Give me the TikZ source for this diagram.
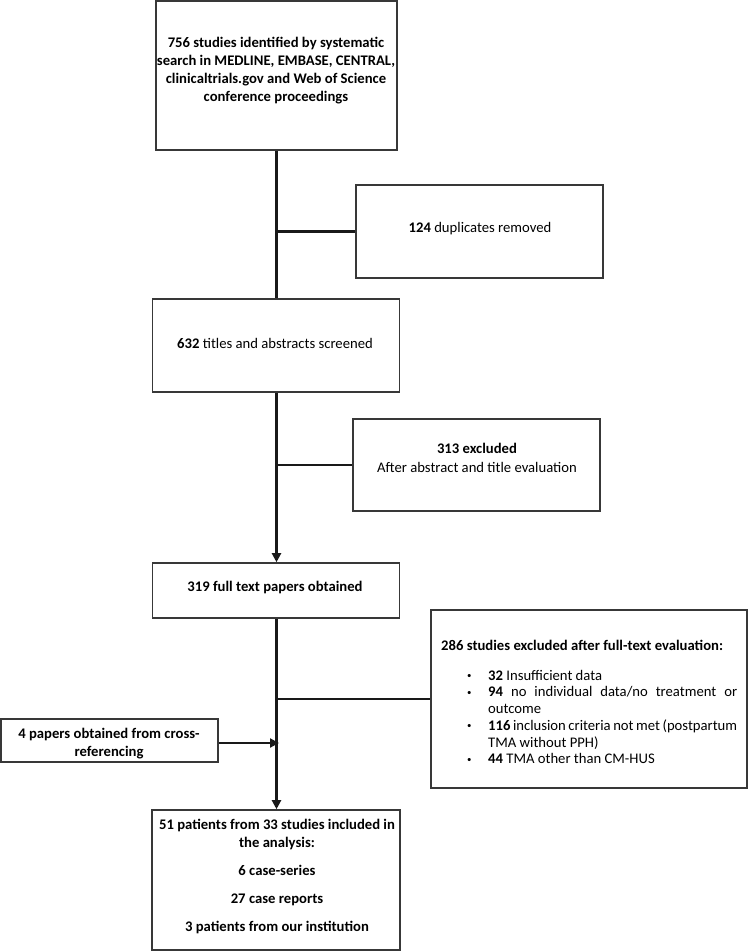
\documentclass[tikz,border=0pt]{standalone}
\usepackage{fontspec}
\setmainfont{Carlito}
\usetikzlibrary{arrows.meta}
\newcommand{\myleftlabel}[1]{\makebox[\labelwidth][l]{#1}}
\tikzset{
  box/.style={draw=black!78, line width=1.6pt, fill=none, inner sep=0pt},
  txt/.style={inner sep=0pt, align=center, font=\fontsize{14.67}{18}\selectfont},
  conn/.style={draw=black!90, line width=2.1pt},
  arr/.style={conn, -{Triangle[length=9pt,width=9pt]}}
}
\begin{document}
\begin{tikzpicture}[x=1pt,y=-1pt]
\useasboundingbox (0,0) rectangle (748,951);
% boxes
\node[box, minimum width=241pt, minimum height=149pt] (b1) at (276.5,75.5) {};
\node[box, minimum width=247pt, minimum height=93pt] (b2) at (479.5,231.5) {};
\node[box, minimum width=247pt, minimum height=93pt] (b3) at (276,345.5) {};
\node[box, minimum width=247pt, minimum height=92pt] (b4) at (476.5,465) {};
\node[box, minimum width=247pt, minimum height=55pt] (b5) at (276,590.5) {};
\node[box, minimum width=316pt, minimum height=178pt] (b6) at (589,699) {};
\node[box, minimum width=217pt, minimum height=43pt] (b7) at (109.5,740.5) {};
\node[box, minimum width=248pt, minimum height=140pt] (b8) at (276,880) {};
% texts
\node[txt] (t1) at (276,71) {\bfseries 756 studies identified by systematic\\ \bfseries search in MEDLINE, EMBASE, CENTRAL,\\ \bfseries clinicaltrials.gov and Web of Science\\ \bfseries conference proceedings};
\node[txt] (t2) at (480,229) {\textbf{124} duplicates removed};
\node[txt] (t3) at (275,343) {\textbf{632} titles and abstracts screened};
\node[txt] (t4a) at (477,448) {\textbf{313 excluded}};
\node[txt] (t4b) at (477,467) {After abstract and title evaluation};
\node[txt] (t5) at (275,587) {\textbf{319 full text papers obtained}};
\node[txt, anchor=north west, text width=296pt, align=justify] (t6) at (441,640) {%
\hyphenpenalty=10000\exhyphenpenalty=10000
\textbf{286 studies excluded after full-text evaluation:}\par
\vspace{13pt}%
\fontsize{14.67}{16.7}\selectfont
\begin{list}{\raisebox{1.5pt}{\scalebox{0.6}{\textbullet}}}{\leftmargin=47pt\labelwidth=21pt\labelsep=0pt\itemsep=0pt\parsep=0pt\topsep=0pt\partopsep=0pt\rightmargin=0pt
  \let\makelabel\myleftlabel}
\item \textbf{32} Insufficient data
\item \textbf{94} no individual data/no treatment or outcome
\item \textbf{116} inclusion criteria not met (postpartum TMA without PPH)
\item \textbf{44} TMA other than CM-HUS
\end{list}};
\node[txt] (t7) at (109,744) {\bfseries 4 papers obtained from cross-\\ \bfseries referencing};
\node[txt] (t8) at (277,876) {\bfseries 51 patients from 33 studies included in\\ \bfseries the analysis:\\[10pt] \bfseries 6 case-series\\[10pt] \bfseries 27 case reports\\[10pt] \bfseries 3 patients from our institution};
% connectors
\coordinate (j1) at (b1.south |- b2.west);
\coordinate (j2) at (b1.south |- b4.west);
\coordinate (j3) at (b1.south |- b6.west);
\coordinate (j4) at (279,743);
\draw[conn] (b1.south) -- (b1.south |- b3.north);
\draw[conn] (j1) -- (b2.west);
\draw[arr] (b1.south |- b3.south) -- (b1.south |- b5.north);
\draw[conn] (j2) -- (b4.west);
\draw[arr] (b1.south |- b5.south) -- (b1.south |- b8.north);
\draw[conn] (j3) -- (b6.west);
\draw[arr] (b7.east |- j4) -- (j4);
\end{tikzpicture}
\end{document}
